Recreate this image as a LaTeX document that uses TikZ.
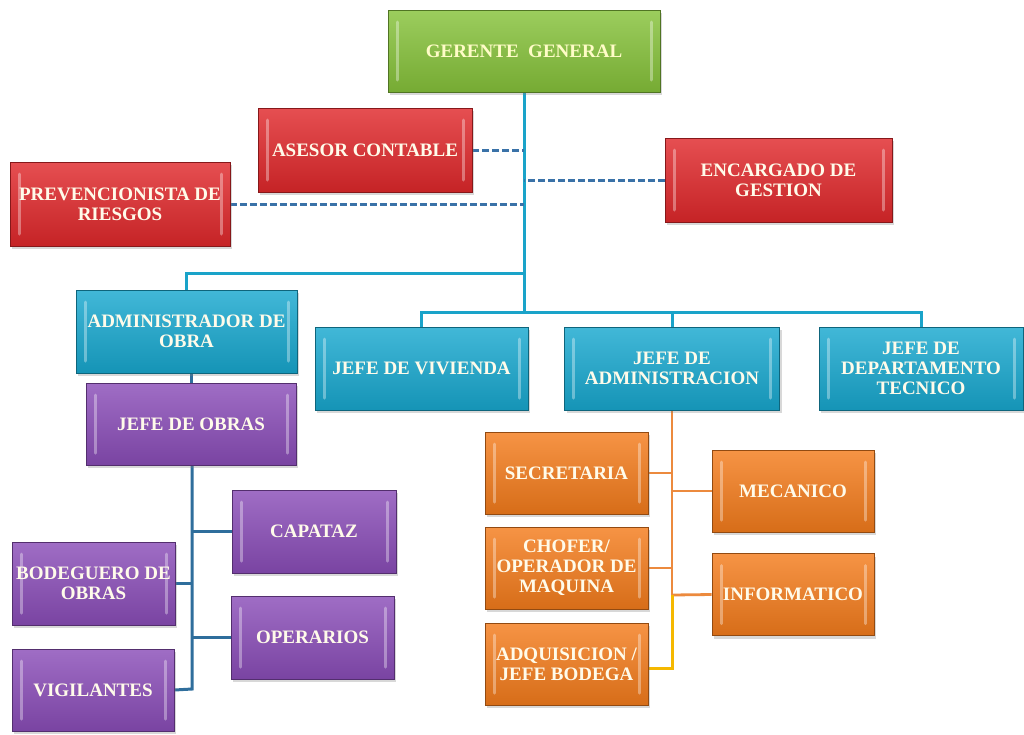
\documentclass[tikz,border=0pt]{standalone}
\usepackage{fontspec}
\setmainfont{Liberation Serif}
\usetikzlibrary{shadows,backgrounds}
\definecolor{cgreen}{HTML}{86C23A}
\definecolor{cred}{HTML}{E0282B}
\definecolor{ccyan}{HTML}{18A8CF}
\definecolor{cpurple}{HTML}{8A4DB8}
\definecolor{corange}{HTML}{F47C1C}
\definecolor{lcyan}{HTML}{1AA3C9}
\definecolor{lsteel}{HTML}{2F6E9C}
\definecolor{lorange}{HTML}{EC8A3E}
\definecolor{lyellow}{HTML}{F5B800}
\definecolor{ldash}{HTML}{3A72A8}
\definecolor{txt}{HTML}{FFFBEA}
\tikzset{
  box/.style={rectangle, draw=#1!60!black, line width=0.8pt,
    top color=#1!82!white, bottom color=#1!88!black,
    inner sep=0pt, align=center, text=txt,
    font=\bfseries\fontsize{19}{20}\selectfont,
    drop shadow={shadow xshift=2pt, shadow yshift=-3pt, opacity=0.3},
    path picture={
      \draw[white, opacity=0.35, line width=3pt, line cap=round]
        ([xshift=9pt,yshift=-12pt]path picture bounding box.north west) --
        ([xshift=9pt,yshift=12pt]path picture bounding box.south west);
      \draw[white, opacity=0.35, line width=3pt, line cap=round]
        ([xshift=-9pt,yshift=-12pt]path picture bounding box.north east) --
        ([xshift=-9pt,yshift=12pt]path picture bounding box.south east);
    }},
  gbox/.style={box=cgreen},
  rbox/.style={box=cred},
  cbox/.style={box=ccyan},
  pbox/.style={box=cpurple},
  obox/.style={box=corange},
  cyline/.style={draw=lcyan, line width=3pt},
  stline/.style={draw=lsteel, line width=3pt},
  orline/.style={draw=lorange, line width=2.8pt},
  yline/.style={draw=lyellow, line width=3pt},
  dashline/.style={draw=ldash, line width=3pt, dash pattern=on 7pt off 3pt},
}
\begin{document}
\begin{tikzpicture}[x=1pt, y=-1pt]
\useasboundingbox (0,0) rectangle (1024,734);

\coordinate (jA) at (524,273);
\coordinate (jB) at (524,312);
\coordinate (jv) at (192,689);
\coordinate (oy) at (672,595);
\coordinate (oz) at (672,668);

% boxes
\node[gbox, text=txt!85!yellow, minimum width=272pt, minimum height=82pt] (gg) at (524,51) {GERENTE\ \ GENERAL};
\node[rbox, minimum width=214pt, minimum height=84pt] (asesor) at (365,150) {ASESOR CONTABLE};
\node[rbox, minimum width=220pt, minimum height=84pt] (prev) at (120,204) {PREVENCIONISTA DE\\RIESGOS};
\node[rbox, minimum width=227pt, minimum height=84pt] (enc) at (778.5,180) {ENCARGADO DE\\GESTION};
\node[cbox, minimum width=221pt, minimum height=83pt] (admin) at (186.5,331.5) {ADMINISTRADOR DE\\OBRA};
\node[cbox, minimum width=213pt, minimum height=83pt] (viv) at (421.5,368.5) {JEFE DE VIVIENDA};
\node[cbox, minimum width=215pt, minimum height=83pt] (jadm) at (672,368.5) {JEFE DE\\ADMINISTRACION};
\node[cbox, minimum width=204pt, minimum height=83pt] (jdt) at (921,368.5) {JEFE DE\\DEPARTAMENTO\\TECNICO};
\node[pbox, minimum width=210pt, minimum height=82pt] (jobras) at (191,424) {JEFE DE OBRAS};
\node[pbox, minimum width=164pt, minimum height=83pt] (capataz) at (314,531.5) {CAPATAZ};
\node[pbox, minimum width=163pt, minimum height=83pt] (bodeg) at (93.5,583.5) {BODEGUERO DE\\OBRAS};
\node[pbox, minimum width=163pt, minimum height=83pt] (operarios) at (312.5,637.5) {OPERARIOS};
\node[pbox, minimum width=162pt, minimum height=82pt] (vigil) at (93,690) {VIGILANTES};
\node[obox, minimum width=163pt, minimum height=82pt] (secre) at (566.5,473) {SECRETARIA};
\node[obox, minimum width=163pt, minimum height=82pt] (chofer) at (566.5,568) {CHOFER/\\OPERADOR DE\\MAQUINA};
\node[obox, minimum width=163pt, minimum height=82pt] (adq) at (566.5,664) {ADQUISICION /\\JEFE BODEGA};
\node[obox, minimum width=162pt, minimum height=82pt] (meca) at (793,491) {MECANICO};
\node[obox, minimum width=162pt, minimum height=82pt] (info) at (793,594.5) {INFORMATICO};

\begin{pgfonlayer}{background}
\fill[white] (0,0) rectangle (1024,734);
% cyan tree
\draw[cyline] (gg.south) -- (jB);
\draw[cyline] (jA) -| (admin.north);
\draw[cyline] (viv.north) -- (viv.north |- jB) -- (jdt.north |- jB) -- (jdt.north);
\draw[cyline] (jadm.north) -- (jadm.north |- jB);
% dashed advisers
\draw[dashline] (asesor.east) -- (asesor.east -| jB);
\draw[dashline] (prev.east) -- (prev.east -| jB);
\draw[dashline] (enc.west) -- (enc.west -| jB);
% purple tree
\draw[stline] (jobras.north) -- (jobras.north |- admin.south);
\draw[stline] (jobras.south -| jv) -- (jv) -- (vigil.east);
\draw[stline] (capataz.west) -- (capataz.west -| jv);
\draw[stline] (bodeg.east) -- (bodeg.east -| jv);
\draw[stline] (operarios.west) -- (operarios.west -| jv);
% orange tree
\draw[orline] (jadm.south) -- (oy);
\draw[orline] (secre.east) -- (secre.east -| oy);
\draw[orline] (chofer.east) -- (chofer.east -| oy);
\draw[orline] (meca.west) -- (meca.west -| oy);
\draw[orline] (info.west) -- (oy);
\draw[yline] (oy) -- (oz) -- (oz -| adq.east);
\end{pgfonlayer}
\end{tikzpicture}
\end{document}
